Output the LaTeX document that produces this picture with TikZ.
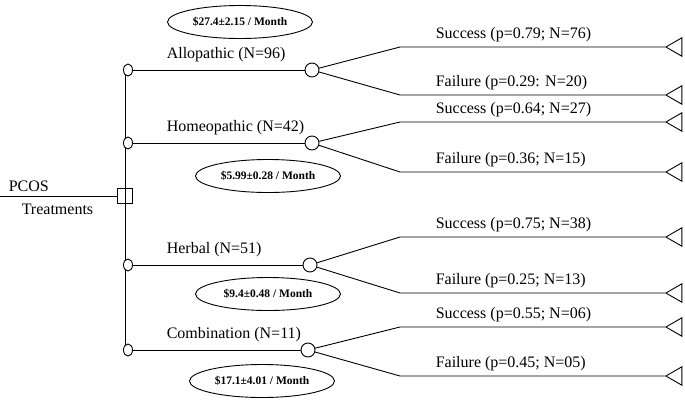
\documentclass[tikz,border=0pt]{standalone}
\usepackage{fontspec}
\setmainfont{Liberation Serif}
\usetikzlibrary{shapes.geometric}
\begin{document}
\begin{tikzpicture}[x=1pt,y=-1pt,line width=0.9pt,
  small/.style={draw,ellipse,minimum width=9pt,minimum height=12pt,inner sep=0pt,fill=white},
  big/.style={draw,circle,minimum size=14pt,inner sep=0pt,fill=white},
  cost/.style={draw,ellipse,minimum width=145pt,minimum height=33pt,inner sep=0pt,font=\bfseries\fontsize{11.5}{12}\selectfont},
  term/.style={draw,isosceles triangle,isosceles triangle apex angle=60,shape border rotate=180,minimum height=16pt,inner sep=0pt,anchor=apex},
  lab/.style={font=\fontsize{16}{17}\selectfont,anchor=base west}]
\useasboundingbox (0,0) rectangle (685,405);
\node[draw,minimum size=15pt,inner sep=0pt,fill=white] (root) at (125,196) {};
\coordinate (in) at (0,196);
\draw (in) -- (root);
\node[lab] at (5,191) {PCOS};
\node[lab] at (18,214) {Treatments};
\coordinate (vt) at (125,70); \coordinate (vb) at (125,350);
\draw (vt) -- (vb);
\foreach \n/\y/\bx/\uy/\ly/\name/\ps/\pf in {
 a/70/312/47/95/Allopathic (N=96)/0.79; N=76/0.29: N=20,
 h/143/312/122/172/Homeopathic (N=42)/0.64; N=27/0.36; N=15,
 e/265/310/237/293/Herbal (N=51)/0.75; N=38/0.25; N=13,
 c/350/308/327/376/Combination (N=11)/0.55; N=06/0.45; N=05}{
 \node[small] (s\n) at (128,\y) {};
 \node[big] (b\n) at (\bx,\y) {};
 \draw (s\n) -- (b\n);
 \coordinate (ku\n) at (400,\uy); \coordinate (kl\n) at (400,\ly);
 \node[term] (tu\n) at (665,\uy) {};
 \node[term] (tl\n) at (665,\ly) {};
 \draw (b\n) -- (ku\n) -- (tu\n.apex);
 \draw (b\n) -- (kl\n) -- (tl\n.apex);
 \node[lab] at (432,\uy-9) {Success (p=\ps)};
 \node[lab] at (432,\ly-9) {Failure (p=\pf)};
 \node[lab] at (163,\y-12) {\name};
}
\node[cost] (ca) at (240,22) {\$27.4±2.15 / Month};
\node[cost] (ch) at (268,176) {\$5.99±0.28 / Month};
\node[cost] (ce) at (268,294) {\$9.4±0.48 / Month};
\node[cost] (cc) at (262,381) {\$17.1±4.01 / Month};
\end{tikzpicture}
\end{document}
